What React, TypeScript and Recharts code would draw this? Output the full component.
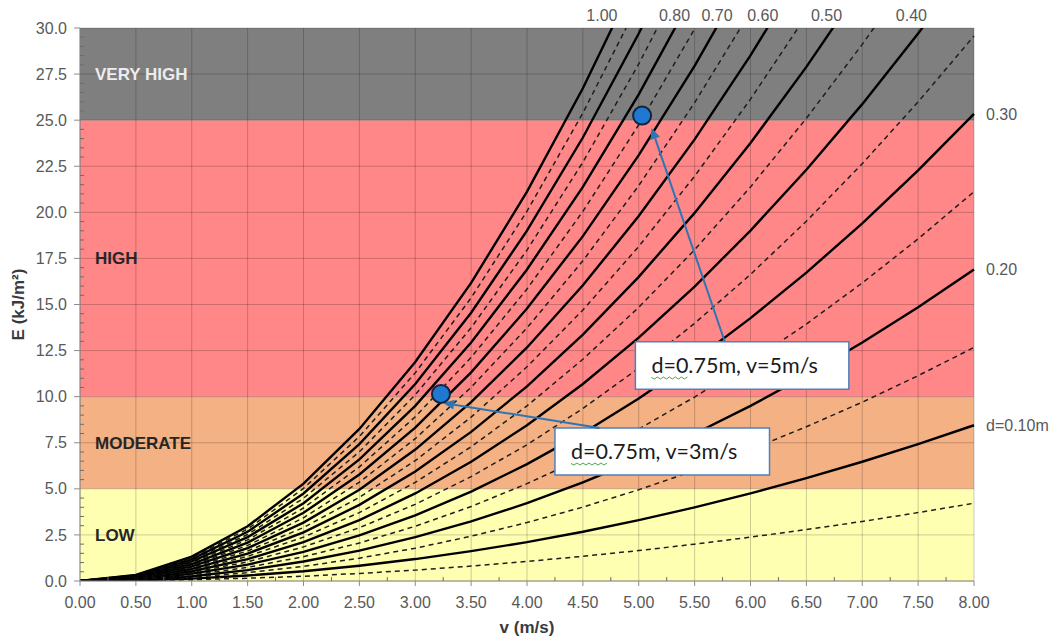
import React from "react";
import {
  LineChart,
  Line,
  XAxis,
  YAxis,
  ReferenceArea,
  ReferenceLine,
  ReferenceDot,
} from "recharts";

// flow velocity (m/s), sampled every 0.5
const velocity = [0, 0.5, 1, 1.5, 2, 2.5, 3, 3.5, 4, 4.5, 5, 5.5, 6, 6.5, 7, 7.5, 8];

// E (kJ/m²) per depth (each stops once it has left the top)
const e005 = [0, 0.02, 0.07, 0.15, 0.26, 0.41, 0.59, 0.81, 1.06, 1.34, 1.65, 2.0, 2.38, 2.79, 3.23, 3.71, 4.22];
const e010 = [0, 0.03, 0.13, 0.3, 0.53, 0.83, 1.19, 1.62, 2.11, 2.67, 3.3, 3.99, 4.75, 5.58, 6.47, 7.43, 8.45];
const e015 = [0, 0.05, 0.2, 0.45, 0.79, 1.24, 1.78, 2.43, 3.17, 4.01, 4.95, 5.99, 7.13, 8.37, 9.7, 11.14, 12.67];
const e020 = [0, 0.07, 0.26, 0.59, 1.06, 1.65, 2.38, 3.23, 4.22, 5.35, 6.6, 7.99, 9.5, 11.15, 12.94, 14.85, 16.9];
const e025 = [0, 0.08, 0.33, 0.74, 1.32, 2.06, 2.97, 4.04, 5.28, 6.68, 8.25, 9.98, 11.88, 13.94, 16.17, 18.56, 21.12];
const e030 = [0, 0.1, 0.4, 0.89, 1.58, 2.48, 3.56, 4.85, 6.34, 8.02, 9.9, 11.98, 14.26, 16.73, 19.4, 22.28, 25.34];
const e035 = [0, 0.12, 0.46, 1.04, 1.85, 2.89, 4.16, 5.66, 7.39, 9.36, 11.55, 13.98, 16.63, 19.52, 22.64, 25.99, 29.57];
const e040 = [0, 0.13, 0.53, 1.19, 2.11, 3.3, 4.75, 6.47, 8.45, 10.69, 13.2, 15.97, 19.01, 22.31, 25.87, 29.7, 33.79];
const e045 = [0, 0.15, 0.59, 1.34, 2.38, 3.71, 5.35, 7.28, 9.5, 12.03, 14.85, 17.97, 21.38, 25.1, 29.11, 33.41];
const e050 = [0, 0.17, 0.66, 1.49, 2.64, 4.13, 5.94, 8.09, 10.56, 13.37, 16.5, 19.97, 23.76, 27.89, 32.34];
const e055 = [0, 0.18, 0.73, 1.63, 2.9, 4.54, 6.53, 8.89, 11.62, 14.7, 18.15, 21.96, 26.14, 30.67];
const e060 = [0, 0.2, 0.79, 1.78, 3.17, 4.95, 7.13, 9.7, 12.67, 16.04, 19.8, 23.96, 28.51, 33.46];
const e065 = [0, 0.21, 0.86, 1.93, 3.43, 5.36, 7.72, 10.51, 13.73, 17.37, 21.45, 25.95, 30.89];
const e070 = [0, 0.23, 0.92, 2.08, 3.7, 5.78, 8.32, 11.32, 14.78, 18.71, 23.1, 27.95, 33.26];
const e075 = [0, 0.25, 0.99, 2.23, 3.96, 6.19, 8.91, 12.13, 15.84, 20.05, 24.75, 29.95, 35.64];
const e080 = [0, 0.26, 1.06, 2.38, 4.22, 6.6, 9.5, 12.94, 16.9, 21.38, 26.4, 31.94];
const e085 = [0, 0.28, 1.12, 2.52, 4.49, 7.01, 10.1, 13.74, 17.95, 22.72, 28.05, 33.94];
const e090 = [0, 0.3, 1.19, 2.67, 4.75, 7.43, 10.69, 14.55, 19.01, 24.06, 29.7, 35.94];
const e095 = [0, 0.31, 1.25, 2.82, 5.02, 7.84, 11.29, 15.36, 20.06, 25.39, 31.35];
const e100 = [0, 0.33, 1.32, 2.97, 5.28, 8.25, 11.88, 16.17, 21.12, 26.73, 33.0];

const xMajor = [0, 0.5, 1, 1.5, 2, 2.5, 3, 3.5, 4, 4.5, 5, 5.5, 6, 6.5, 7, 7.5, 8];
const yMajor = [0, 2.5, 5, 7.5, 10, 12.5, 15, 17.5, 20, 22.5, 25, 27.5, 30];

const bands = [
  { name: "LOW", from: 0, to: 5, fill: "#ffffb2", text: "#262626" },
  { name: "MODERATE", from: 5, to: 10, fill: "#f4b183", text: "#262626" },
  { name: "HIGH", from: 10, to: 25, fill: "#ff8787", text: "#262626" },
  { name: "VERY HIGH", from: 25, to: 30, fill: "#7f7f7f", text: "#ececec" },
];

const topLabels = [
  { text: "1.00", v: 4.67 },
  { text: "0.80", v: 5.32 },
  { text: "0.70", v: 5.7 },
  { text: "0.60", v: 6.11 },
  { text: "0.50", v: 6.68 },
  { text: "0.40", v: 7.44 },
];
const sideLabels = [
  { text: "0.30", e: 25.34 },
  { text: "0.20", e: 16.9 },
  { text: "d=0.10m", e: 8.45 },
];

const points = [
  { v: 5.03, e: 25.25 },
  { v: 3.23, e: 10.15 },
];

const callouts = [
  { text: "d=0.75m, v=5m/s", v1: 4.97, v2: 6.88, e1: 10.4, e2: 12.98, from: { x: 5.77, y: 12.98 }, to: { x: 5.115, y: 24.58 } },
  { text: "d=0.75m, v=3m/s", v1: 4.25, v2: 6.17, e1: 5.75, e2: 8.3, from: { x: 4.65, y: 8.3 }, to: { x: 3.25, y: 9.66 } },
];

const series = [
  { key: "d005", values: e005, dashed: true },
  { key: "d010", values: e010, dashed: false },
  { key: "d015", values: e015, dashed: true },
  { key: "d020", values: e020, dashed: false },
  { key: "d025", values: e025, dashed: true },
  { key: "d030", values: e030, dashed: false },
  { key: "d035", values: e035, dashed: true },
  { key: "d040", values: e040, dashed: false },
  { key: "d045", values: e045, dashed: true },
  { key: "d050", values: e050, dashed: false },
  { key: "d055", values: e055, dashed: true },
  { key: "d060", values: e060, dashed: false },
  { key: "d065", values: e065, dashed: true },
  { key: "d070", values: e070, dashed: false },
  { key: "d075", values: e075, dashed: true },
  { key: "d080", values: e080, dashed: false },
  { key: "d085", values: e085, dashed: true },
  { key: "d090", values: e090, dashed: false },
  { key: "d095", values: e095, dashed: true },
  { key: "d100", values: e100, dashed: false },
];

const rows = velocity.map((v, i) => {
  const r: Record<string, number> = { v };
  series.forEach((s) => {
    if (i < s.values.length) r[s.key] = s.values[i];
  });
  return r;
});

const xTicks = Array.from({ length: 33 }, (_, i) => i * 0.25);
const yTicks = Array.from({ length: 61 }, (_, i) => i * 0.5);
const isIn = (list: number[], v: number) => list.some((m) => Math.abs(m - v) < 1e-6);

const AXIS = "#8c8c8c";
const TICK_TEXT = "#595959";
const GRID = "rgba(0,0,0,0.2)";

function YTick(props: any) {
  const { x, y, payload } = props;
  const ax = x + 13;
  const v = payload.value;
  if (!isIn(yMajor, v)) {
    return <line x1={ax} x2={ax + 4} y1={y} y2={y} stroke="#6b6b6b" />;
  }
  return (
    <g>
      <line x1={ax - 6} x2={ax} y1={y} y2={y} stroke={AXIS} />
      <text x={x} y={y} dy="0.35em" textAnchor="end" fontSize={16} fill={TICK_TEXT}>
        {v.toFixed(1)}
      </text>
    </g>
  );
}

function XTick(props: any) {
  const { x, y, payload } = props;
  const ay = y - 16;
  const v = payload.value;
  if (!isIn(xMajor, v)) {
    return <line x1={x} x2={x} y1={ay} y2={ay - 4} stroke="#6b6b6b" />;
  }
  return (
    <g>
      <line x1={x} x2={x} y1={ay} y2={ay + 5} stroke={AXIS} />
      <text x={x} y={y} dy="0.71em" textAnchor="middle" fontSize={16} fill={TICK_TEXT}>
        {v.toFixed(2)}
      </text>
    </g>
  );
}

function Arrow(p: any) {
  const { x1, y1, x2, y2 } = p;
  const a = Math.atan2(y2 - y1, x2 - x1);
  const len = 11;
  const half = 5;
  const bx = x2 - len * Math.cos(a);
  const by = y2 - len * Math.sin(a);
  const px = -Math.sin(a) * half;
  const py = Math.cos(a) * half;
  return (
    <g>
      <line x1={x1} y1={y1} x2={bx} y2={by} stroke="#2e75b6" strokeWidth={2} />
      <polygon points={`${x2},${y2} ${bx + px},${by + py} ${bx - px},${by - py}`} fill="#2e75b6" />
    </g>
  );
}

function BoxLabel(props: any) {
  const { viewBox, text } = props;
  const tx = viewBox.x + 16;
  const ty = viewBox.y + viewBox.height / 2;
  let wave = `M ${tx} ${ty + 12}`;
  for (let i = 1; i <= 12; i++) wave += ` L ${tx + i * 3} ${ty + 12 + (i % 2 ? 1.5 : -0.5)}`;
  return (
    <g>
      <text x={tx} y={ty} dy="0.35em" fontSize={21.5} fill="#1a1a1a" fontFamily="Lato, 'Open Sans', sans-serif">
        {text}
      </text>
      <path d={wave} fill="none" stroke="#4ea24e" strokeWidth={1} />
    </g>
  );
}

export default function App() {
  return (
    <div style={{ position: "absolute", left: 0, top: 0, background: "#fff" }}>
      <LineChart
        width={1051}
        height={639}
        data={rows}
        margin={{ top: 28, right: 77, bottom: 0, left: 0 }}
        style={{ fontFamily: "'Liberation Sans', Arial, sans-serif" }}
      >
        {bands.map((b) => (
          <ReferenceArea
            key={b.name}
            y1={b.from}
            y2={b.to}
            fill={b.fill}
            fillOpacity={1}
            stroke="none"
            zIndex={-150}
            label={{ value: b.name, position: "insideLeft", offset: 15, fill: b.text, fontSize: 17, fontWeight: 700 }}
          />
        ))}
        {xMajor.map((v) => (
          <ReferenceLine key={"gx" + v} x={v} stroke={GRID} strokeWidth={1} zIndex={-120} />
        ))}
        {yMajor.map((e) => (
          <ReferenceLine key={"gy" + e} y={e} stroke={GRID} strokeWidth={1} zIndex={-120} />
        ))}
        <XAxis
          dataKey="v"
          type="number"
          domain={[0, 8]}
          ticks={xTicks}
          interval={0}
          height={58}
          tickSize={5}
          tickMargin={11}
          tickLine={false}
          tick={<XTick />}
          stroke={AXIS}
          label={{ value: "v (m/s)", position: "insideBottom", offset: 6, fontSize: 17, fontWeight: 700, fill: "#3a3a3a" }}
        />
        <YAxis
          type="number"
          domain={[0, 30]}
          allowDataOverflow
          ticks={yTicks}
          interval={0}
          width={80}
          tickSize={6}
          tickMargin={7}
          tickLine={false}
          tick={<YTick />}
          stroke={AXIS}
          label={{ value: "E (kJ/m²)", angle: -90, position: "center", dx: -22, fontSize: 17, fontWeight: 700, fill: "#3a3a3a" }}
        />
        {series.map((s) => (
          <Line
            key={s.key}
            dataKey={s.key}
            type="linear"
            stroke={s.dashed ? "#1e1e1e" : "#000"}
            strokeWidth={s.dashed ? 1.5 : 2.4}
            strokeDasharray={s.dashed ? "5 4" : undefined}
            dot={false}
            activeDot={false}
            isAnimationActive={false}
          />
        ))}
        {topLabels.map((t) => (
          <ReferenceDot
            key={t.text}
            x={t.v}
            y={30}
            r={0}
            fill="none"
            stroke="none"
            label={{ value: t.text, position: "top", offset: 7, fontSize: 16, fill: TICK_TEXT }}
          />
        ))}
        {sideLabels.map((t) => (
          <ReferenceDot
            key={t.text}
            x={8}
            y={t.e}
            r={0}
            fill="none"
            stroke="none"
            label={{ value: t.text, position: "right", offset: 12, fontSize: 16, fill: TICK_TEXT }}
          />
        ))}
        {callouts.map((c) => (
          <ReferenceArea
            key={c.text}
            x1={c.v1}
            x2={c.v2}
            y1={c.e1}
            y2={c.e2}
            fill="#fff"
            fillOpacity={1}
            stroke="#4f81bd"
            strokeWidth={1.5}
            zIndex={700}
            label={(p: any) => <BoxLabel {...p} text={c.text} />}
          />
        ))}
        {callouts.map((c) => (
          <ReferenceLine key={c.text + "-arrow"} segment={[c.from, c.to]} zIndex={800} shape={Arrow} />
        ))}
        {points.map((p) => (
          <ReferenceDot
            key={p.v}
            x={p.v}
            y={p.e}
            r={9}
            fill="#1f78d1"
            stroke="#14233f"
            strokeWidth={2}
            zIndex={900}
          />
        ))}
      </LineChart>
    </div>
  );
}
